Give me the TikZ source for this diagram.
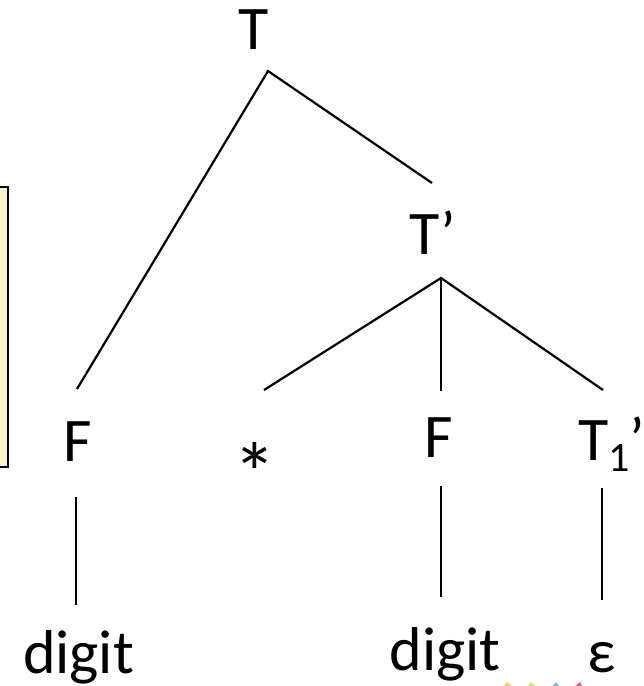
\documentclass[tikz,border=0pt]{standalone}
\usepackage{fontspec}
\setmainfont{Carlito}
\definecolor{notefill}{HTML}{FFF2CC}
\begin{document}
\begin{tikzpicture}[x=1pt,y=-1pt,
  sym/.style={inner sep=0pt,outer sep=0pt,font=\fontsize{62}{62}\selectfont},
  edge/.style={line width=2.2pt,line cap=butt},
  note/.style={draw=black,line width=2pt,fill=notefill}]
\useasboundingbox (0,0) rectangle (644,686);

% note box cut off at the left edge
\draw[note] (-20,187) rectangle (8,467);

% symbols of the parse tree
\node[sym,anchor=base] (T) at (253.5,49) {T};
\node[sym,anchor=base west] (Tp) at (409,254) {T’};
\node[sym,anchor=base west] (F1) at (63,461) {F};
\node[sym,anchor=center,font=\fontsize{86}{86}\selectfont] (star) at (255,473) {*};
\node[sym,anchor=base west] (F2) at (424,457) {F};
\node[sym,anchor=base west] (T1p) at (578,460) {T\raisebox{-11pt}{\fontsize{42}{42}\selectfont 1}’};
\node[sym,anchor=base] (d1) at (78.5,673) {digit};
\node[sym,anchor=base] (d2) at (445,670) {digit};
\node[sym,anchor=base] (eps) at (601.5,672) {ε};

% end points of the edges
\coordinate (T-s) at (268,71);
\coordinate (Tp-n) at (432,183);
\coordinate (Tp-s) at (441,278);
\coordinate (F1-n) at (77,389);
\coordinate (F1-s) at (76,497);
\coordinate (star-n) at (264,390);
\coordinate (F2-n) at (441,391);
\coordinate (F2-s) at (441,486);
\coordinate (T1p-n) at (603,390);
\coordinate (T1p-s) at (602,488);
\coordinate (d1-n) at (76,605);
\coordinate (d2-n) at (441,597);
\coordinate (eps-n) at (602,600);

\draw[edge] (F1-n) -- (T-s) -- (Tp-n);
\draw[edge] (star-n) -- (Tp-s) -- (T1p-n);
\draw[edge] (Tp-s) -- (F2-n);
\draw[edge] (F1-s) -- (d1-n);
\draw[edge] (F2-s) -- (d2-n);
\draw[edge] (T1p-s) -- (eps-n);

% coloured marks at the bottom edge
\fill[orange!70!yellow!60!white] (504,686) -- (507,682) -- (512,686) -- cycle;
\fill[yellow!70!green!60!white] (528,686) -- (531,682) -- (536,686) -- cycle;
\fill[cyan!60!teal!60!white] (552,686) -- (556,682) -- (559,686) -- cycle;
\fill[purple!60!red!60!white] (575,686) -- (580,682) -- (582,686) -- cycle;
\end{tikzpicture}
\end{document}
